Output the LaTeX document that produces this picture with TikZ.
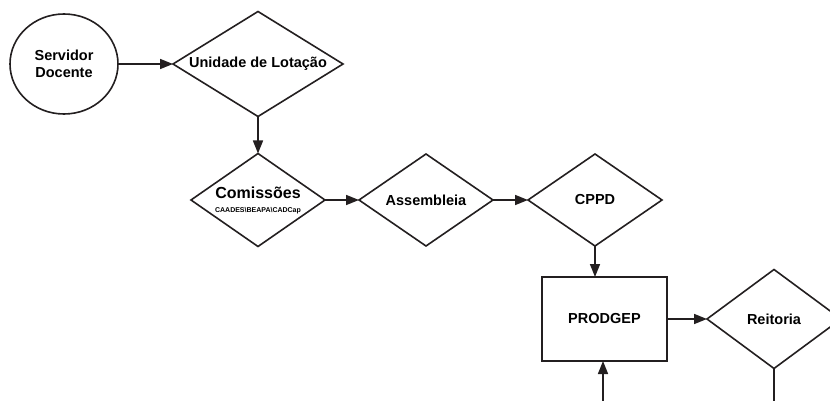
\documentclass[tikz,border=0pt]{standalone}
\usepackage{fontspec}
\setmainfont{Liberation Sans}
\newcommand*{\flowfont}{\fontsize{14.5}{17}\selectfont\bfseries}
\newcommand*{\bigflowfont}{\fontsize{16}{18}\selectfont\bfseries}
\newcommand*{\tinyflowfont}{\fontsize{7}{8}\selectfont\bfseries}
\definecolor{ink}{cmyk}{0.00,0.00,0.00,1.00}
\definecolor{paper}{cmyk}{0.00,0.00,0.00,0.00}
\usetikzlibrary{arrows.meta}
\usetikzlibrary{positioning}
\usetikzlibrary{shapes.geometric}
\tikzstyle{base}=[x=1pt, y=-1pt, inner sep=0pt, outer sep=0pt, line width=1.6pt]
\tikzstyle{stage}=[diamond, draw=ink, fill=paper, align=center, aspect=1.46, minimum width=134pt, minimum height=92pt]
\tikzstyle{office}=[rectangle, draw=ink, fill=paper, minimum width=125pt, minimum height=84pt]
\tikzstyle{flow}=[draw=ink, -{Triangle[length=13pt,width=10pt]}]

\begin{document}
\begin{tikzpicture}[base]
    \flowfont
        \useasboundingbox (0,0) rectangle (830,401);
        \clip (0,0) rectangle (830,401);
        \node [ellipse, draw=ink, fill=paper, align=center, minimum width=108pt, minimum height=100pt] (servidor) at (64,64) {Servidor\\Docente};
        \node [stage, aspect=1.62, minimum width=170pt, minimum height=105pt] (unidade) at (258,64) {Unidade de Lota\c{c}\~ao};
        \node [stage, aspect=1.43, minimum height=93pt] (comissoes) at (258,200) {{\bigflowfont Comiss\~oes}\\[-3pt]{\tinyflowfont CAADES\textbackslash BEAPA\textbackslash CADCap}};
        \node [stage] (assembleia) at (426,200) {Assembleia};
        \node [stage] (cppd) at (595,200) {CPPD};
        \node [office] (prodgep) at (604.5,319) {PRODGEP};
        \node [stage, aspect=1.35, minimum height=99pt] (reitoria) at (774,319) {Reitoria};
        \coordinate (fromBelow) at (603,401);
        \coordinate (toBelow) at (774,401);
        \draw [flow] (servidor) -- (unidade.west);
        \draw [flow] (unidade.south) -- (comissoes.north);
        \draw [flow] (comissoes.east) -- (assembleia.west);
        \draw [flow] (assembleia.east) -- (cppd.west);
        \draw [flow] (cppd.south) -- (cppd.south |- prodgep.north);
        \draw [flow] (prodgep.east) -- (reitoria.west);
        \draw [flow] (fromBelow) -- (fromBelow |- prodgep.south);
        \draw [ink] (reitoria.south) -- (toBelow);
    \end{tikzpicture}
\end{document}
